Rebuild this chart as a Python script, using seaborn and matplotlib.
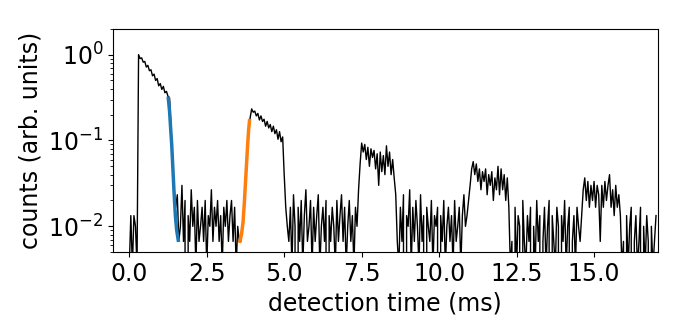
import numpy as np
import pandas as pd
import matplotlib
matplotlib.use("Agg")
import matplotlib.pyplot as plt
import seaborn as sns

# ---- data (photon counts per 0.05 ms bin) ----
BIN = 0.05
PEAK = 300.0  # counts of the highest bin, used for normalisation

seg_start = [0.00, 0.30, 1.65, 3.60, 5.15, 7.40, 8.70, 10.90, 12.35, 14.60, 15.95]

pre = [1, 4, 1, 4, 3, 1]
pulse1 = [300, 270, 275, 245, 250, 215, 225, 195, 200, 170, 178, 150, 158, 130,
          138, 118, 128, 108, 112, 98, 94, 40, 16, 8, 5, 7, 2]
gap1 = [3, 9, 2, 6, 0, 4, 2, 8, 3, 5, 1, 6, 2, 3, 5, 2, 6, 1, 4, 3, 8, 2, 5, 3,
        6, 2, 4, 1, 5, 3, 6, 2, 4, 6, 2, 5, 1, 3, 2]
pulse2 = [2, 3, 5, 10, 17, 38, 55, 70, 64, 66, 58, 62, 52, 58, 50, 53, 44, 50,
          42, 46, 38, 44, 36, 40, 31, 38, 29, 33, 12, 5, 3]
gap2 = [2, 5, 1, 7, 3, 0, 5, 2, 6, 1, 4, 8, 2, 3, 6, 1, 5, 2, 4, 7, 1, 3, 5, 2,
        6, 0, 4, 2, 5, 3, 1, 6, 2, 4, 7, 2, 5, 1, 3, 6, 2, 4, 1, 5, 3]
pulse3 = [8, 16, 28, 22, 27, 18, 25, 15, 24, 19, 23, 14, 21, 9, 22, 13, 20, 12,
          26, 15, 22, 12, 18, 11, 7, 2]
gap3 = [1, 5, 2, 7, 0, 4, 3, 8, 1, 5, 2, 6, 3, 1, 7, 2, 4, 0, 5, 3, 2, 6, 1, 4,
        3, 5, 0, 4, 2, 6, 1, 3, 5, 2, 4, 1, 6, 2, 3, 5, 1, 4, 7, 3]
pulse4 = [4, 6, 9, 14, 17, 12, 16, 10, 14, 8, 13, 10, 14, 7, 12, 9, 13, 6, 11,
          8, 15, 7, 14, 8, 12, 6, 11, 5, 1]
gap4 = [2, 0, 5, 1, 4, 3, 0, 6, 2, 1, 4, 2, 5, 0, 3, 1, 6, 2, 4, 0, 2, 5, 1, 3,
        6, 0, 4, 2, 1, 5, 3, 0, 4, 2, 6, 1, 3, 5, 0, 2, 4, 1, 5, 3, 2]
pulse5 = [4, 8, 11, 6, 10, 5, 9, 6, 10, 5, 9, 7, 2, 9, 5, 10, 6, 9, 12, 5, 8, 4,
          9, 5, 7, 4, 1]
gap5 = [2, 0, 4, 1, 3, 5, 0, 2, 4, 1, 2, 5, 0, 3, 1, 4, 2, 0, 3, 1, 2, 4]

segments = [pre, pulse1, gap1, pulse2, gap2, pulse3, gap3, pulse4, gap4, pulse5, gap5]

# fitted edges
fall_t = [1.26, 1.30, 1.34, 1.37, 1.41, 1.45, 1.49, 1.53, 1.58]
fall_y = [0.31, 0.22, 0.13, 0.089, 0.045, 0.023, 0.013, 0.0090, 0.0069]
rise_t = [3.57, 3.62, 3.67, 3.71, 3.75, 3.79, 3.82, 3.85, 3.88]
rise_y = [0.0067, 0.0080, 0.011, 0.018, 0.032, 0.058, 0.089, 0.13, 0.17]

# ---- build table ----
rows = []
for start, counts in zip(seg_start, segments):
    for i, c in enumerate(counts):
        rows.append((start + i * BIN, c / PEAK))
trace = pd.DataFrame(rows, columns=["time", "counts"])
fall = pd.DataFrame({"time": fall_t, "counts": fall_y})
rise = pd.DataFrame({"time": rise_t, "counts": rise_y})

# ---- plot ----
plt.rcParams["font.family"] = ["DejaVu Sans"]
plt.rcParams["font.size"] = 17

fig = plt.figure(figsize=(6.9, 3.2), dpi=100)
ax = fig.add_axes([0.164, 0.212, 0.789, 0.698])

sns.lineplot(data=trace, x="time", y="counts", ax=ax, color="black",
             linewidth=1.0, estimator=None, sort=False)
sns.lineplot(data=fall, x="time", y="counts", ax=ax, color="#1f77b4",
             linewidth=2.5, estimator=None)
sns.lineplot(data=rise, x="time", y="counts", ax=ax, color="#ff7f0e",
             linewidth=2.5, estimator=None)

ax.set_yscale("log")
ax.set_xlim(-0.52, 17.05)
ax.set_ylim(5e-3, 2.0)
ax.set_xticks([0.0, 2.5, 5.0, 7.5, 10.0, 12.5, 15.0])
ax.set_xlabel("detection time (ms)")
ax.set_ylabel("counts (arb. units)")

fig.savefig("out.png", dpi=100)
